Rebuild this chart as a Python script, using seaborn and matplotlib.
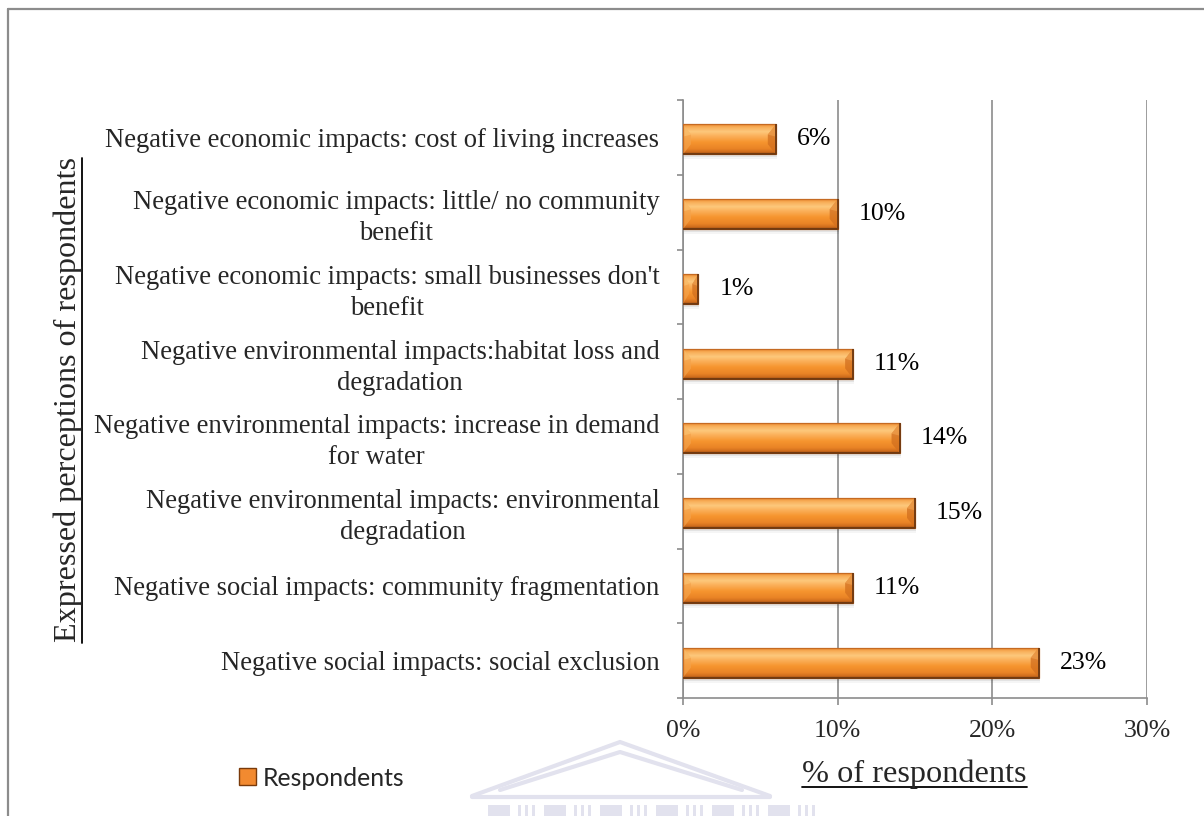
import numpy as np
import pandas as pd
import matplotlib
matplotlib.use("Agg")
import matplotlib.pyplot as plt
import seaborn as sns
from matplotlib.colors import to_rgb
from matplotlib.patches import Polygon, Patch, Rectangle
from matplotlib.lines import Line2D

# ---- data -------------------------------------------------------------
categories = [
    "Negative economic impacts: cost of living increases",
    "Negative economic impacts: little/ no community\nbenefit",
    "Negative economic impacts: small businesses don't\nbenefit",
    "Negative environmental impacts:habitat loss and\ndegradation",
    "Negative environmental impacts: increase in demand\nfor water",
    "Negative environmental impacts: environmental\ndegradation",
    "Negative social impacts: community fragmentation",
    "Negative social impacts: social exclusion",
]
percentages = [6, 10, 1, 11, 14, 15, 11, 23]
x_ticks = [0, 10, 20, 30]
x_tick_labels = ["0%", "10%", "20%", "30%"]
series_name = "Respondents"
x_title = "% of respondents"
y_title = "Expressed perceptions of respondents"

# ---- style ------------------------------------------------------------
sns.set_theme(style="white")
plt.rcParams["font.family"] = ["Liberation Serif", "DejaVu Serif"]

W, H = 1204, 816
fig = plt.figure(figsize=(W / 100, H / 100), dpi=100)
fig.patch.set_facecolor("white")


def fx(px):
    return px / W


def fy(py):
    return 1 - py / H


ax = fig.add_axes([fx(683), fy(698), fx(1147) - fx(683), fy(100) - fy(698)])
ax.set_facecolor("white")

GRID = "#8c8c8c"
ORANGE = "#F79646"
EDGE = "#7A3A0A"

df = pd.DataFrame({"perception": categories, "pct": percentages})
sns.barplot(data=df, x="pct", y="perception", orient="h", color=ORANGE,
            width=0.4, edgecolor="none", linewidth=0, ax=ax, zorder=3)

ax.set_xlim(0, 30)
ax.set_ylim(len(categories) - 0.5, -0.5)

# ---- glossy bevelled fill on each bar ---------------------------------
stops = [(0.00, "#EC8A30"), (0.10, "#F8AE58"), (0.25, "#FDC87C"),
         (0.40, "#FBB05A"), (0.60, "#F6952F"), (0.82, "#EA8426"),
         (0.94, "#CF6C1C"), (1.00, "#8E4813")]
pos = np.array([s[0] for s in stops])
cols = np.array([to_rgb(s[1]) for s in stops])
t = np.linspace(0, 1, 96)
grad = np.stack([np.interp(t, pos, cols[:, k]) for k in range(3)], axis=-1)
grad = grad[:, None, :]

px_x = 30 / (1147 - 683)      # data units per pixel, x
px_y = 8 / (698 - 100)        # data units per pixel, y
shift = 2 * px_y              # bars sit slightly below the slot centre

for bar in ax.patches:
    bar.set_y(bar.get_y() + shift)
    x0, y0 = bar.get_x(), bar.get_y()
    w, h = bar.get_width(), bar.get_height()
    y1 = y0 + h
    # soft drop shadow
    for k, a in ((1, 0.10), (3, 0.07), (5, 0.04)):
        ax.add_patch(Rectangle((x0 + 1 * px_x, y0 + k * px_y), w, h,
                               facecolor="#000000", alpha=a, lw=0, zorder=2))
    im = ax.imshow(grad, extent=(x0, x0 + w, y1, y0), origin="upper",
                   aspect="auto", zorder=3.5, interpolation="bilinear")
    im.set_clip_path(bar)
    # bevelled ends
    d = min(8 * px_x, w * 0.4)
    e = h * 0.34
    ax.add_patch(Polygon([(x0, y0), (x0 + d, y0 + e), (x0 + d, y1 - e), (x0, y1)],
                         closed=True, facecolor="#F4A24A", alpha=0.7, lw=0, zorder=3.6))
    ax.add_patch(Polygon([(x0, y0), (x0 + d, y0 + e), (x0, y0 + e * 1.2)],
                         closed=True, facecolor="#FDC878", alpha=0.55, lw=0, zorder=3.65))
    ax.add_patch(Polygon([(x0 + w, y0), (x0 + w - d, y0 + e), (x0 + w - d, y1 - e), (x0 + w, y1)],
                         closed=True, facecolor="#D26F1E", alpha=0.75, lw=0, zorder=3.6))
    ax.add_patch(Polygon([(x0 + w, y0), (x0 + w - d, y0 + e), (x0 + w, y0 + e * 1.2)],
                         closed=True, facecolor="#F2A552", alpha=0.6, lw=0, zorder=3.65))
    ax.add_patch(Rectangle((x0, y0), w, h, facecolor="none", edgecolor="#C56A22",
                           lw=0.9, zorder=3.8))
    ax.plot([x0 + w, x0 + w, x0], [y0, y1, y1], color="#6E3810", lw=1.3,
            zorder=3.9, solid_capstyle="butt")

ax.set_xlim(0, 30)
ax.set_ylim(len(categories) - 0.5, -0.5)

# ---- value labels -----------------------------------------------------
ax.bar_label(ax.containers[0], labels=[f"{v}%" for v in percentages],
             padding=15, fontsize=18.5, color="black")

# ---- axes -------------------------------------------------------------
ax.set_xticks(x_ticks)
ax.set_xticklabels(x_tick_labels, fontsize=18.5)
ax.tick_params(axis="x", direction="out", length=5, width=1.2, color=GRID,
               pad=11, bottom=True)
ax.xaxis.grid(True, color=GRID, lw=1.2, zorder=0)
ax.yaxis.grid(False)
ax.set_axisbelow(True)

ax.set_yticks(range(len(categories)))
ax.set_yticklabels(categories, fontsize=19.2)
for lbl in ax.get_yticklabels():
    lbl.set_multialignment("center")
    lbl.set_linespacing(1.32)
ax.tick_params(axis="y", which="major", length=0, pad=17)
ax.set_yticks(np.arange(-0.5, len(categories)), minor=True)
ax.tick_params(axis="y", which="minor", direction="out", length=4.5,
               width=1.2, color=GRID, left=True)

for side in ("top", "right"):
    ax.spines[side].set_visible(False)
for side in ("left", "bottom"):
    ax.spines[side].set_color(GRID)
    ax.spines[side].set_linewidth(1.2)
ax.set_xlabel("")
ax.set_ylabel("")

# ---- axis titles (underlined) -----------------------------------------
xt = fig.text(fx(914.5), fy(782), x_title, fontsize=23.2, ha="center",
              va="baseline")
yt = fig.text(fx(76), fy(400), y_title, fontsize=23.1, rotation=90,
              rotation_mode="anchor", ha="center", va="baseline")

fig.canvas.draw()
r = fig.canvas.get_renderer()
bx = xt.get_window_extent(r)
fig.add_artist(Line2D([bx.x0 / W, bx.x1 / W], [fy(787), fy(787)],
                      transform=fig.transFigure, color="black", lw=1.3))
by = yt.get_window_extent(r)
fig.add_artist(Line2D([fx(81.5), fx(81.5)], [by.y0 / H, by.y1 / H],
                      transform=fig.transFigure, color="black", lw=1.3))

# ---- legend -----------------------------------------------------------
fig.legend(handles=[Patch(facecolor="#F28A30", edgecolor=EDGE, lw=1.0)],
           labels=[series_name], loc="center left",
           bbox_to_anchor=(fx(239), fy(778)), frameon=False,
           handlelength=0.68, handleheight=0.68, handletextpad=0.3,
           borderaxespad=0, borderpad=0,
           prop={"family": "Lato", "size": 17.8})

# ---- faint crest in the lower margin ----------------------------------
WM = "#e2e2ee"
wm = [
    [(472, 796), (620, 742), (770, 796)],
    [(500, 790), (620, 752), (742, 790)],
]
for pts in wm:
    fig.add_artist(Line2D([fx(p[0]) for p in pts], [fy(p[1]) for p in pts],
                          transform=fig.transFigure, color=WM, lw=3,
                          zorder=0))
fig.add_artist(Line2D([fx(472), fx(770)], [fy(797), fy(797)],
                      transform=fig.transFigure, color=WM, lw=3, zorder=0))
for cx in range(488, 770, 56):
    fig.add_artist(Rectangle((fx(cx), fy(816)), fx(22), fy(805) - fy(816),
                             transform=fig.transFigure, facecolor=WM,
                             lw=0, zorder=0))
    for k in range(3):
        fig.add_artist(Rectangle((fx(cx + 30 + k * 7), fy(816)), fx(3),
                                 fy(805) - fy(816), transform=fig.transFigure,
                                 facecolor=WM, lw=0, zorder=0))

# ---- outer frame ------------------------------------------------------
fig.add_artist(Line2D([fx(8), fx(8)], [0, fy(9)], transform=fig.transFigure,
                      color=GRID, lw=1.6))
fig.add_artist(Line2D([fx(8), 1], [fy(9), fy(9)], transform=fig.transFigure,
                      color=GRID, lw=1.6))

fig.savefig("out.png", dpi=100, facecolor="white")
